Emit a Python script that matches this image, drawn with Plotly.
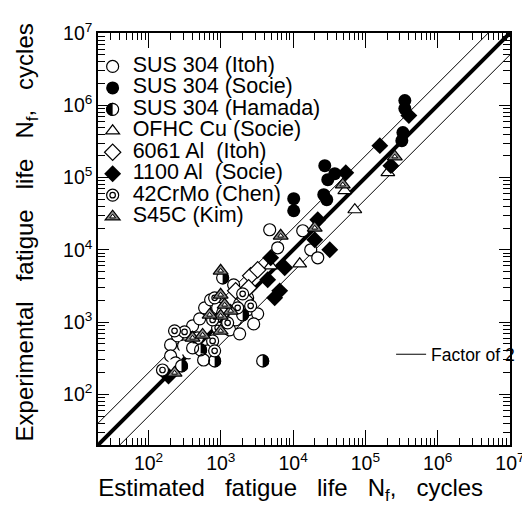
import numpy as np
import plotly.graph_objects as go

# SUS 304 (Itoh) - open circles
itoh_x = [202, 202, 237, 305, 358, 657, 252, 407, 509, 597, 722, 903, 1059, 1324, 1603, 1821, 1821,
          2350, 3233, 2847, 4742, 6118, 13580, 17530, 21910, 1504, 2350, 477]
itoh_y = [485, 341, 273, 470, 376, 401, 646, 889, 1111, 1578, 2037, 1578, 1345, 782, 1076, 1793, 689,
          1480, 1303, 947, 18980, 10690, 18390, 10030, 7774, 3284, 2171, 606]
# SUS 304 (Socie) - filled circles
socie_x = [351000, 351000, 330000, 319000, 27400, 30150, 37690, 26530, 29200, 10190, 10190]
socie_y = [1162000, 900000, 419000, 324000, 146200, 93500, 113200, 57980, 49420, 51030, 34800]
# SUS 304 (Hamada) - half filled circles
hamada_x = [286, 578, 407, 525, 821, 1059, 2004, 3793]
hamada_y = [248, 300, 441, 413, 291, 4108, 1262, 291]
# OFHC Cu (Socie)
ofhc_x = [204300, 51840, 71330, 12340, 4896]
ofhc_y = [116900, 65850, 35930, 6420, 6024]
# 6061 Al (Itoh)
al6061_x = [2586, 3233, 2427, 2136, 1603]
al6061_y = [4378, 5301, 2986, 2102, 2714]
# 1100 Al (Socie)
al1100_x = [399000, 158300, 53510, 224700, 21910, 19920, 32130, 4896, 7650, 4448, 6522, 5562, 189]
al1100_y = [720000, 276600, 116900, 146200, 26120, 13800, 10030, 7774, 5650, 3854, 2714, 2171, 180]
# 42CrMo (Chen)
crmo_x = [156, 315, 229, 770, 821, 903, 1243, 770, 821, 2004, 2586, 1709]
crmo_y = [218, 734, 758, 551, 401, 834, 978, 1076, 2171, 2466, 1682, 1578]
# S45C (Kim)
s45c_x = [229, 406, 560, 994, 994, 700, 1368, 1130, 994, 994, 6730, 19900, 48600, 255000]
s45c_y = [199, 607, 667, 758, 1223, 1262, 1432, 1738, 2390, 5140, 15660, 20200, 79800, 195000]

names = ["SUS 304 (Itoh)", "SUS 304 (Socie)", "SUS 304 (Hamada)", "OFHC Cu (Socie)",
         "6061 Al\u00a0 (Itoh)", "1100 Al\u00a0 (Socie)", "42CrMo (Chen)", "S45C (Kim)"]
tick_vals = [1e2, 1e3, 1e4, 1e5, 1e6, 1e7]
tick_text = ["10<sup>%d</sup>" % k for k in range(2, 8)]

ref_x = np.array([20, 1e7])

FONT = "Liberation Sans, Arial, sans-serif"
LW = 1.2
CLEAR = "rgba(0,0,0,0)"


def nm(s):
    return "<span style='font-size:21.5px'>%s</span>" % s


def dummy(i, legend):
    # empty legend row so that overlay legends line up with the main one
    return go.Scatter(x=[None], y=[None], mode="markers", name=nm(names[i]), legend=legend,
                      legendrank=i, marker=dict(color=CLEAR, size=2, line=dict(width=0)))


fig = go.Figure()

# factor of 2 band and 1:1 line
fig.add_trace(go.Scatter(x=ref_x, y=ref_x * 2, mode="lines", line=dict(color="black", width=1),
                         name="Factor of 2", legend="legend4"))
fig.add_trace(go.Scatter(x=ref_x, y=ref_x / 2, mode="lines", line=dict(color="black", width=1),
                         showlegend=False))
fig.add_trace(go.Scatter(x=ref_x, y=ref_x, mode="lines", line=dict(color="black", width=4),
                         showlegend=False))

open_line = dict(color="black", width=LW)
fig.add_trace(go.Scatter(x=itoh_x, y=itoh_y, mode="markers", name=nm(names[0]), legendrank=0,
                         marker=dict(symbol="circle", size=12, color="white", line=open_line)))
fig.add_trace(go.Scatter(x=socie_x, y=socie_y, mode="markers", name=nm(names[1]), legendrank=1,
                         marker=dict(symbol="circle", size=13, color="black", line=dict(width=0))))
# half filled circle = black disc + white left half + outline
fig.add_trace(go.Scatter(x=hamada_x, y=hamada_y, mode="markers", name=nm(names[2]), legendrank=2,
                         marker=dict(symbol="circle", size=12, color="black", line=open_line)))
fig.add_trace(go.Scatter(x=hamada_x, y=hamada_y, mode="markers", name=nm(names[2]), legendrank=2,
                         legend="legend2",
                         marker=dict(symbol="square", size=13, color="white", angle=90, standoff=6.5,
                                     line=dict(width=0))))
fig.add_trace(go.Scatter(x=hamada_x, y=hamada_y, mode="markers", name=nm(names[2]), legendrank=2,
                         legend="legend3",
                         marker=dict(symbol="circle", size=12, color=CLEAR, line=open_line)))
fig.add_trace(go.Scatter(x=ofhc_x, y=ofhc_y, mode="markers", name=nm(names[3]), legendrank=3,
                         marker=dict(symbol="triangle-up", size=12, color="white", line=open_line)))
fig.add_trace(go.Scatter(x=al6061_x, y=al6061_y, mode="markers", name=nm(names[4]), legendrank=4,
                         marker=dict(symbol="diamond", size=12.5, color="white", line=open_line)))
fig.add_trace(go.Scatter(x=al1100_x, y=al1100_y, mode="markers", name=nm(names[5]), legendrank=5,
                         marker=dict(symbol="diamond", size=13, color="black", line=dict(width=0))))
fig.add_trace(go.Scatter(x=crmo_x, y=crmo_y, mode="markers", name=nm(names[6]), legendrank=6,
                         marker=dict(symbol="circle", size=12, color="white", line=open_line)))
fig.add_trace(go.Scatter(x=crmo_x, y=crmo_y, mode="markers", name=nm(names[6]), legendrank=6,
                         legend="legend2",
                         marker=dict(symbol="circle", size=5.5, color="white", line=open_line)))
fig.add_trace(go.Scatter(x=s45c_x, y=s45c_y, mode="markers", name=nm(names[7]), legendrank=7,
                         marker=dict(symbol="triangle-up", size=13, color="#8a8a8a", line=open_line)))
fig.add_trace(go.Scatter(x=s45c_x, y=s45c_y, mode="markers", name=nm(names[7]), legendrank=7,
                         legend="legend2",
                         marker=dict(symbol="triangle-up", size=5, color="white",
                                     line=dict(color="black", width=1))))

for i in [0, 1, 3, 4, 5]:
    fig.add_trace(dummy(i, "legend2"))
for i in [0, 1]:
    fig.add_trace(dummy(i, "legend3"))

axis = dict(type="log", range=[np.log10(20), 7], showline=True, linecolor="black", linewidth=1.5,
            mirror="ticks", ticks="inside", tickcolor="black", tickwidth=1,
            tickvals=tick_vals, ticktext=tick_text, showgrid=False, zeroline=False,
            tickfont=dict(family=FONT, size=19.5, color="black"),
            minor=dict(ticks="inside", ticklen=7, tickcolor="black", tickwidth=1, dtick="D1", showgrid=False))

sp = "\u00a0\u00a0\u00a0"
pad = "<span style='color:rgba(0,0,0,0)'>nn</span>"
pad1 = "<span style='color:rgba(0,0,0,0)'>n</span>"
leg_common = dict(x=-0.013, y=0.957, xanchor="left", yanchor="top", bgcolor=CLEAR, tracegroupgap=0)
fig.update_layout(
    width=530, height=505,
    margin=dict(l=90, r=28, t=25, b=68, autoexpand=False),
    paper_bgcolor="white", plot_bgcolor="white",
    font=dict(family=FONT, color="black"),
    xaxis=dict(axis, ticklen=15,
               title=dict(text="Estimated" + sp + "fatigue" + sp + "life" + sp + "N<sub>f</sub>," + sp
                          + "cycles" + pad,
                          font=dict(family=FONT, size=24), standoff=1)),
    yaxis=dict(axis, ticklen=11,
               title=dict(text=pad1 + "Experimental" + sp + "fatigue" + sp + "life" + sp + "N<sub>f</sub>,"
                          + sp + "cycles",
                          font=dict(family=FONT, size=24), standoff=23)),
    showlegend=True,
    legend=dict(leg_common, font=dict(family=FONT, size=14.2, color="black")),
    legend2=dict(leg_common, font=dict(family=FONT, size=14.2, color=CLEAR)),
    legend3=dict(leg_common, font=dict(family=FONT, size=14.2, color=CLEAR)),
    legend4=dict(x=0.7114, y=0.22, xanchor="left", yanchor="middle", bgcolor=CLEAR,
                 font=dict(family=FONT, size=17.5, color="black")),
)

fig.write_html("out.html")
